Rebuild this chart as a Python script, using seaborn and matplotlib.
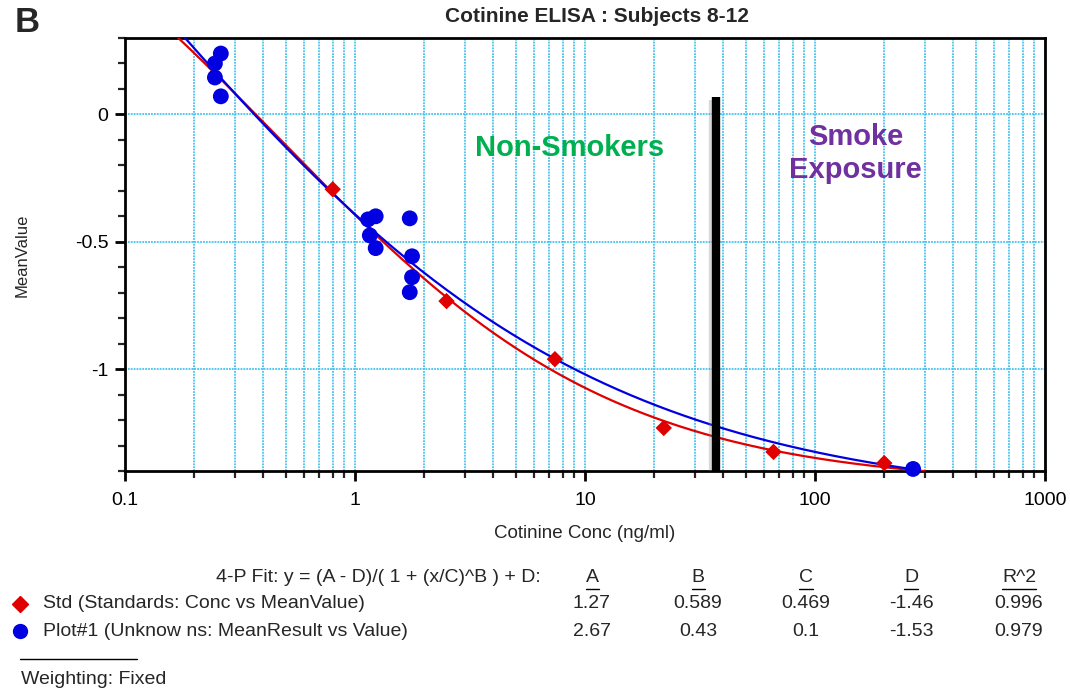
import numpy as np
import pandas as pd
import matplotlib
matplotlib.use("Agg")
import matplotlib.pyplot as plt
import matplotlib.patheffects as pe
from matplotlib.lines import Line2D
from matplotlib.ticker import LogLocator, FixedLocator, MultipleLocator, NullFormatter
import seaborn as sns

# --- donnees ---
std_conc = [0.8, 2.5, 7.4, 22, 66, 200]
std_mean = [-0.294, -0.733, -0.961, -1.231, -1.325, -1.369]

unk_value = [0.261, 0.246, 0.246, 0.261, 1.14, 1.23, 1.16, 1.23, 1.73, 1.77, 1.77, 1.73, 267]
unk_result = [0.239, 0.200, 0.145, 0.071, -0.412, -0.400, -0.475, -0.525, -0.408, -0.557, -0.639, -0.698, -1.392]

# parametres 4-P affiches dans la legende : A, B, C, D, R^2
fit_names = ["A", "B", "C", "D", "R^2"]
std_fit = [1.27, 0.589, 0.469, -1.46, 0.996]
unk_fit = [2.67, 0.43, 0.1, -1.53, 0.979]
std_fit_txt = ["1.27", "0.589", "0.469", "-1.46", "0.996"]
unk_fit_txt = ["2.67", "0.43", "0.1", "-1.53", "0.979"]
std_range = [0.1, 300]
unk_range = [0.1, 267]

cutoff_conc = 37  # ligne non-fumeurs / exposition
cutoff_top = 0.067

x_ticks = [0.1, 1, 10, 100, 1000]
x_ticklabels = ["0.1", "1", "10", "100", "1000"]
y_ticks = [0, -0.5, -1]
y_ticklabels = ["0", "-0.5", "-1"]


def four_pl(x, p):
    a, b, c, d = p[:4]
    return (a - d) / (1 + (x / c) ** b) + d


sns.set_style("ticks")
plt.rcParams['font.family'] = ['Liberation Sans', 'DejaVu Sans']

W, H = 1070, 691
fig = plt.figure(figsize=(W / 100, H / 100), dpi=100)


def fx(px):
    return px / W


def fy(py):
    return 1 - py / H


ax = fig.add_axes([fx(125), fy(471), fx(1045) - fx(125), fy(38) - fy(471)])

grid_col = "#45C4F0"
ax.set_xscale("log")
ax.set_xlim(0.1, 1000)
ax.set_ylim(-1.4, 0.3)

# courbes de fit
xs_std = np.logspace(np.log10(std_range[0]), np.log10(std_range[1]), 300)
xs_unk = np.logspace(np.log10(unk_range[0]), np.log10(unk_range[1]), 300)
curves = pd.DataFrame({
    "x": np.concatenate([xs_std, xs_unk]),
    "y": np.concatenate([four_pl(xs_std, std_fit), four_pl(xs_unk, unk_fit)]),
    "serie": ["Std"] * len(xs_std) + ["Plot#1"] * len(xs_unk),
})
palette = {"Std": "#E00000", "Plot#1": "#0000E0"}
sns.lineplot(data=curves, x="x", y="y", hue="serie", palette=palette, sort=False,
             linewidth=1.6, legend=False, ax=ax, zorder=4)

# points
sns.scatterplot(x=unk_value, y=unk_result, marker="o", s=130, color="#0000E0",
                edgecolor="none", ax=ax, zorder=5, clip_on=False)
sns.scatterplot(x=std_conc, y=std_mean, marker="D", s=70, color="#E00000",
                edgecolor="none", ax=ax, zorder=6)

# ligne verticale noire
ax.plot([cutoff_conc, cutoff_conc], [-1.4, cutoff_top], color="black", linewidth=6,
        solid_capstyle="butt", zorder=7,
        path_effects=[pe.SimpleLineShadow(offset=(-2, -2), shadow_color="gray", alpha=0.3),
                      pe.Normal()])

ax.text(8.6, -0.13, "Non-Smokers", color="#00B050", fontsize=21, fontweight="bold",
        ha="center", va="center", zorder=8)
ax.text(150, -0.153, "Smoke\nExposure", color="#7030A0", fontsize=21, fontweight="bold",
        ha="center", va="center", linespacing=1.25, zorder=8)

# axes / grille
ax.xaxis.set_major_locator(FixedLocator(x_ticks))
ax.set_xticklabels(x_ticklabels)
ax.xaxis.set_minor_locator(LogLocator(base=10, subs=np.arange(2, 10)))
ax.xaxis.set_minor_formatter(NullFormatter())
ax.yaxis.set_major_locator(FixedLocator(y_ticks))
ax.set_yticklabels(y_ticklabels)
ax.yaxis.set_minor_locator(MultipleLocator(0.1))
ax.grid(True, which="both", axis="x", color=grid_col, linestyle=(0, (1, 0.6)), linewidth=1.3)
ax.grid(True, which="major", axis="y", color=grid_col, linestyle=(0, (1, 0.6)), linewidth=1.3)
ax.set_axisbelow(True)
for s in ax.spines.values():
    s.set_color("black")
    s.set_linewidth(2)
ax.tick_params(which="major", direction="out", length=7, width=2, labelsize=14, colors="black")
ax.tick_params(which="minor", direction="out", length=5, width=1.6)
ax.tick_params(axis="x", which="major", pad=8)
ax.tick_params(axis="y", which="major", pad=5)
ax.set_xlabel("")
ax.set_ylabel("")

fig.text(fx(585), fy(534), "Cotinine Conc (ng/ml)", fontsize=13.5, ha="center", va="center")
fig.text(fx(22), fy(255), "MeanValue", fontsize=12, rotation=90, ha="center", va="center")
fig.text(fx(597), fy(16), "Cotinine ELISA : Subjects 8-12", fontsize=15, fontweight="bold",
         ha="center", va="center")
fig.text(fx(27), fy(23), "B", fontsize=25, fontweight="bold", ha="center", va="center")

# bloc legende / parametres
leg_fs = 14
fig.text(fx(541), fy(578), "4-P Fit: y = (A - D)/( 1 + (x/C)^B ) + D:", fontsize=leg_fs,
         ha="right", va="center")
col_x = [592, 698, 806, 911, 1019]
renderer = fig.canvas.get_renderer()
for cx, name in zip(col_x, fit_names):
    t = fig.text(fx(cx), fy(578), name, fontsize=leg_fs, ha="center", va="center")
    bb = t.get_window_extent(renderer)
    fig.add_artist(Line2D([bb.x0 / W, bb.x1 / W], [fy(589), fy(589)], color="black",
                          linewidth=1, transform=fig.transFigure))

fig.add_artist(Line2D([fx(20)], [fy(604)], marker="D", markersize=8, color="#E00000",
                      linestyle="none", transform=fig.transFigure))
fig.add_artist(Line2D([fx(20)], [fy(631)], marker="o", markersize=10, color="#0000E0",
                      linestyle="none", transform=fig.transFigure))
fig.text(fx(43), fy(604), "Std (Standards: Conc vs MeanValue)", fontsize=leg_fs,
         ha="left", va="center")
fig.text(fx(43), fy(631), "Plot#1 (Unknow ns: MeanResult vs Value)", fontsize=leg_fs,
         ha="left", va="center")
for cx, a, b in zip(col_x, std_fit_txt, unk_fit_txt):
    fig.text(fx(cx), fy(604), a, fontsize=leg_fs, ha="center", va="center")
    fig.text(fx(cx), fy(631), b, fontsize=leg_fs, ha="center", va="center")

fig.add_artist(Line2D([fx(20), fx(137)], [fy(659), fy(659)], color="black", linewidth=1,
                      transform=fig.transFigure))
fig.text(fx(21), fy(679), "Weighting: Fixed", fontsize=leg_fs, ha="left", va="center")

fig.savefig("out.png", dpi=100)
